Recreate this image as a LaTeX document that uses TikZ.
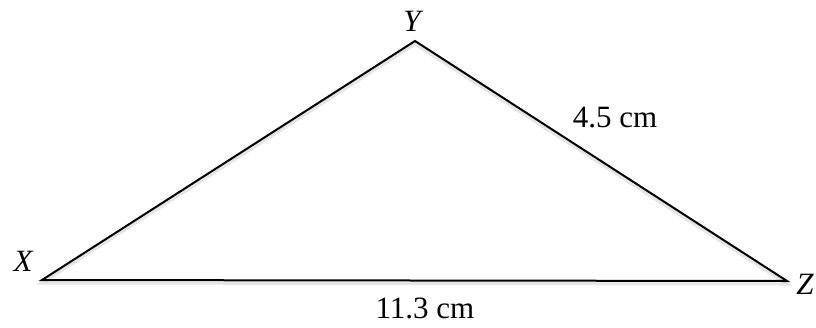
\documentclass[tikz,border=0pt]{standalone}
\usepackage{fontspec}
\setmainfont{Liberation Serif}
\begin{document}
\begin{tikzpicture}[x=1pt,y=-1pt,
  lbl/.style={inner sep=0pt,font=\fontsize{31}{34}\selectfont},
  side/.style={line width=2pt,line join=miter}]
\useasboundingbox (0,0) rectangle (816,327);
\coordinate (X) at (42,280);
\coordinate (Y) at (415,41);
\coordinate (Z) at (787,281);
\draw[side,black!10,line width=3pt] ([yshift=-3pt]X) -- ([yshift=-3pt]Y) -- ([yshift=-3pt]Z) -- cycle;
\draw[side] (X) -- (Y) -- (Z) -- cycle;
\node[lbl] (lY) at (412,21) {\itshape Y};
\node[lbl] (lX) at (23,261) {\itshape X};
\node[lbl] (lZ) at (805,284) {\itshape Z};
\node[lbl] (l45) at (615,117.5) {4.5 cm};
\node[lbl] (l113) at (425,308) {11.3 cm};
\end{tikzpicture}
\end{document}
